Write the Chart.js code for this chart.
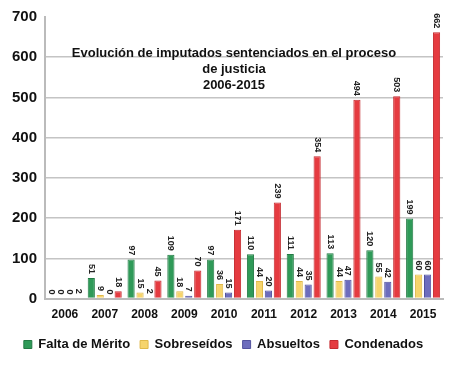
<!DOCTYPE html>
<html>
<head>
<meta charset="utf-8">
<script src="https://cdn.jsdelivr.net/npm/chart.js@4"></script>
<style>
    html, body { margin: 0; padding: 0; background: #fff; }
    #wrap { position: relative; width: 450px; height: 365px; }
    #title {
        position: absolute; left: 34px; width: 400px; top: 45px;
        text-align: center; font: bold 13px 'Liberation Sans', Arial, sans-serif;
        line-height: 16px; color: #111;
    }
</style>
</head>
<body>
<div id="wrap">
    <canvas id="chart" width="450" height="365"></canvas>
    <div id="title">Evolución de imputados sentenciados en el proceso<br>de justicia<br>2006-2015</div>
</div>
<script>
const years = ['2006', '2007', '2008', '2009', '2010', '2011', '2012', '2013', '2014', '2015'];
const faltaMerito = [0, 51, 97, 109, 97, 110, 111, 113, 120, 199];
const sobreseidos = [0, 9, 15, 18, 36, 44, 44, 44, 55, 60];
const absueltos = [0, 0, 2, 7, 15, 20, 35, 47, 42, 60];
const condenados = [2, 18, 45, 70, 171, 239, 354, 494, 503, 662];
const yTicks = [0, 100, 200, 300, 400, 500, 600, 700];

const FONT = "'Liberation Sans', Arial, sans-serif";

// rotated value labels above each bar
const barLabels = {
    id: 'barLabels',
    afterDatasetsDraw(chart) {
        const ctx = chart.ctx;
        ctx.save();
        ctx.font = 'bold 9px ' + FONT;
        ctx.fillStyle = '#222';
        chart.data.datasets.forEach((ds, i) => {
            const meta = chart.getDatasetMeta(i);
            meta.data.forEach((bar, j) => {
                ctx.save();
                ctx.translate(bar.x, bar.y - 4);
                ctx.rotate(Math.PI / 2);
                ctx.textAlign = 'right';
                ctx.textBaseline = 'middle';
                ctx.fillText(String(ds.data[j]), 0, 0);
                ctx.restore();
            });
        });
        ctx.restore();
    }
};

function makeSet(label, data, color, edge) {
    return {
        label: label,
        data: data,
        backgroundColor: color,
        borderColor: edge,
        borderWidth: 1,
        categoryPercentage: 0.9,
        barPercentage: 0.8
    };
}

new Chart(document.getElementById('chart'), {
    type: 'bar',
    data: {
        labels: years,
        datasets: [
            makeSet('Falta de Mérito', faltaMerito, '#2f9a58', '#237a44'),
            makeSet('Sobreseídos', sobreseidos, '#f6d46c', '#e0b94a'),
            makeSet('Absueltos', absueltos, '#6d6dbd', '#52529e'),
            makeSet('Condenados', condenados, '#e53b40', '#c42a2f')
        ]
    },
    options: {
        responsive: false,
        animation: false,
        layout: { padding: { top: 13, right: 7, left: 4, bottom: 4 } },
        plugins: {
            legend: {
                position: 'bottom',
                labels: {
                    color: '#111',
                    font: { family: FONT, size: 13, weight: 'bold' },
                    boxWidth: 8,
                    boxHeight: 8,
                    padding: 10
                }
            },
            tooltip: { enabled: false }
        },
        scales: {
            x: {
                grid: { display: false },
                border: { color: '#bbb', width: 2 },
                afterFit(axis) { axis.height += 5; },
                ticks: {
                    color: '#111',
                    padding: 1,
                    font: { family: FONT, size: 12, weight: 'bold' }
                }
            },
            y: {
                min: 0,
                max: 700,
                afterBuildTicks(axis) { axis.ticks = yTicks.map(v => ({ value: v })); },
                grid: { color: ctx => ctx.tick && ctx.tick.value === 700 ? 'rgba(0,0,0,0)' : '#c4c4c4', lineWidth: 1.5, tickLength: 0 },
                border: { color: '#bbb', width: 2 },
                ticks: {
                    color: '#111',
                    padding: 8,
                    font: { family: FONT, size: 15, weight: 'bold' }
                }
            }
        }
    },
    plugins: [barLabels]
});
</script>
</body>
</html>
